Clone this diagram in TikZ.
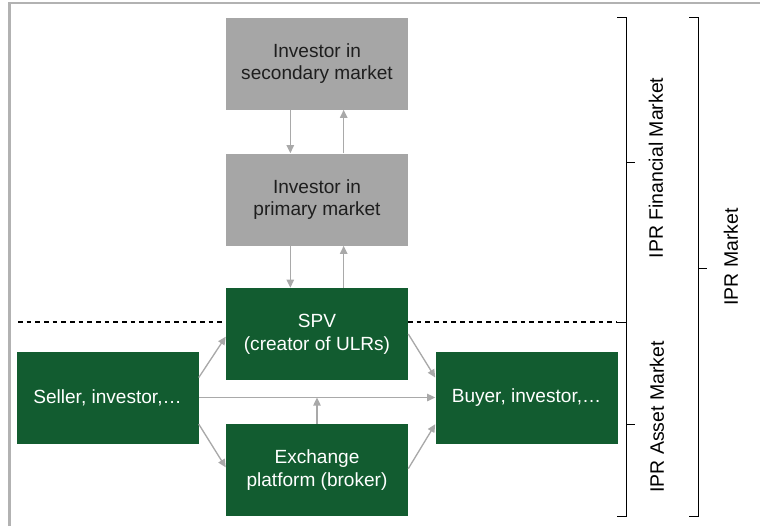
\documentclass[tikz,border=0pt]{standalone}
\usepackage{fontspec}
\setmainfont{Liberation Sans}
\usetikzlibrary{arrows.meta, positioning, calc}
\definecolor{boxgreen}{HTML}{125C30}
\definecolor{boxgray}{HTML}{A6A6A6}
\definecolor{linkgray}{HTML}{A9A9A9}
\definecolor{framegray}{HTML}{B2B2B2}
\definecolor{darktext}{HTML}{1E1E1E}

% square bracket brace: x, top, bottom, tip
\newcommand{\sqbrace}[4]{%
  \draw[bracestyle] (#1-9,#2) -- (#1,#2) -- (#1,#3) -- (#1-9,#3);
  \draw[bracestyle] (#1,#4) -- (#1+9,#4);}

\begin{document}
\begin{tikzpicture}[x=0.75pt, y=-0.75pt,
    box/.style={minimum width=136.5pt, minimum height=69pt, inner sep=0pt, align=center,
      font=\fontsize{14.3}{17}\selectfont},
    graybox/.style={box, fill=boxgray, text=darktext},
    greenbox/.style={box, fill=boxgreen, text=white},
    link/.style={draw=linkgray, line width=1pt, -{Triangle[length=6pt, width=5.5pt]}, fill=linkgray},
    bracestyle/.style={black, line width=0.75pt},
    marketlabel/.style={rotate=90, font=\fontsize{14.6}{17}\selectfont}]
  \useasboundingbox (0,0) rectangle (760,526);

  % Frame on top and left
  \draw[framegray, line width=1.6pt] (9.5,526) -- (9.5,3.3) -- (760,3.3);

  % Border between financial and asset market
  \draw[black, line width=0.8pt, dash pattern=on 3.5pt off 3pt] (18,322) -- (617,322);

  % Financial market side
  \node[graybox] (secondary) at (317,63.5) {Investor in\\secondary market};
  \node[graybox] (primary) at (317,199.5) {Investor in\\primary market};
  \node[greenbox] (spv) at (317,334) {SPV\\(creator of ULRs)};

  % Asset market side
  \node[greenbox] (seller) at (107.5,397.5) {Seller, investor,\ldots};
  \node[greenbox] (buyer) at (526.5,397.5) {Buyer, investor,\ldots};
  \node[greenbox] (exchange) at (317,470) {Exchange\\platform (broker)};

  % Flows between investors and SPV
  \draw[link] ([xshift=-20pt]secondary.south) -- ([xshift=-20pt]primary.north);
  \draw[link] ([xshift=20pt]primary.north) -- ([xshift=20pt]secondary.south);
  \draw[link] ([xshift=-20pt]primary.south) -- ([xshift=-20pt]spv.north);
  \draw[link] ([xshift=20pt]spv.north) -- ([xshift=20pt]primary.south);

  % Flows from seller to buyer
  \draw[link] ([yshift=15pt]seller.east) -- ([yshift=-2pt]spv.west);
  \draw[link] ([yshift=-20pt]seller.east) -- ([yshift=2pt]exchange.west);
  \draw[link] (seller.east) -- (buyer.west);
  \draw[link] (spv.east) -- ([yshift=15pt]buyer.west);
  \draw[link] ([yshift=1pt]exchange.east) -- ([yshift=-20pt]buyer.west);
  \coordinate (flowline) at (exchange.north |- seller.east);
  \draw[link] (exchange.north) -- (flowline);

  % Braces and market labels
  \sqbrace{626}{17}{322}{162}
  \sqbrace{626}{322}{516}{424}
  \sqbrace{698}{17}{516}{268}
  \node[marketlabel] (financial) at (656,168) {IPR Financial Market};
  \node[marketlabel] (asset) at (657,417) {IPR Asset Market};
  \node[marketlabel] (market) at (731,257) {IPR Market};
\end{tikzpicture}
\end{document}
